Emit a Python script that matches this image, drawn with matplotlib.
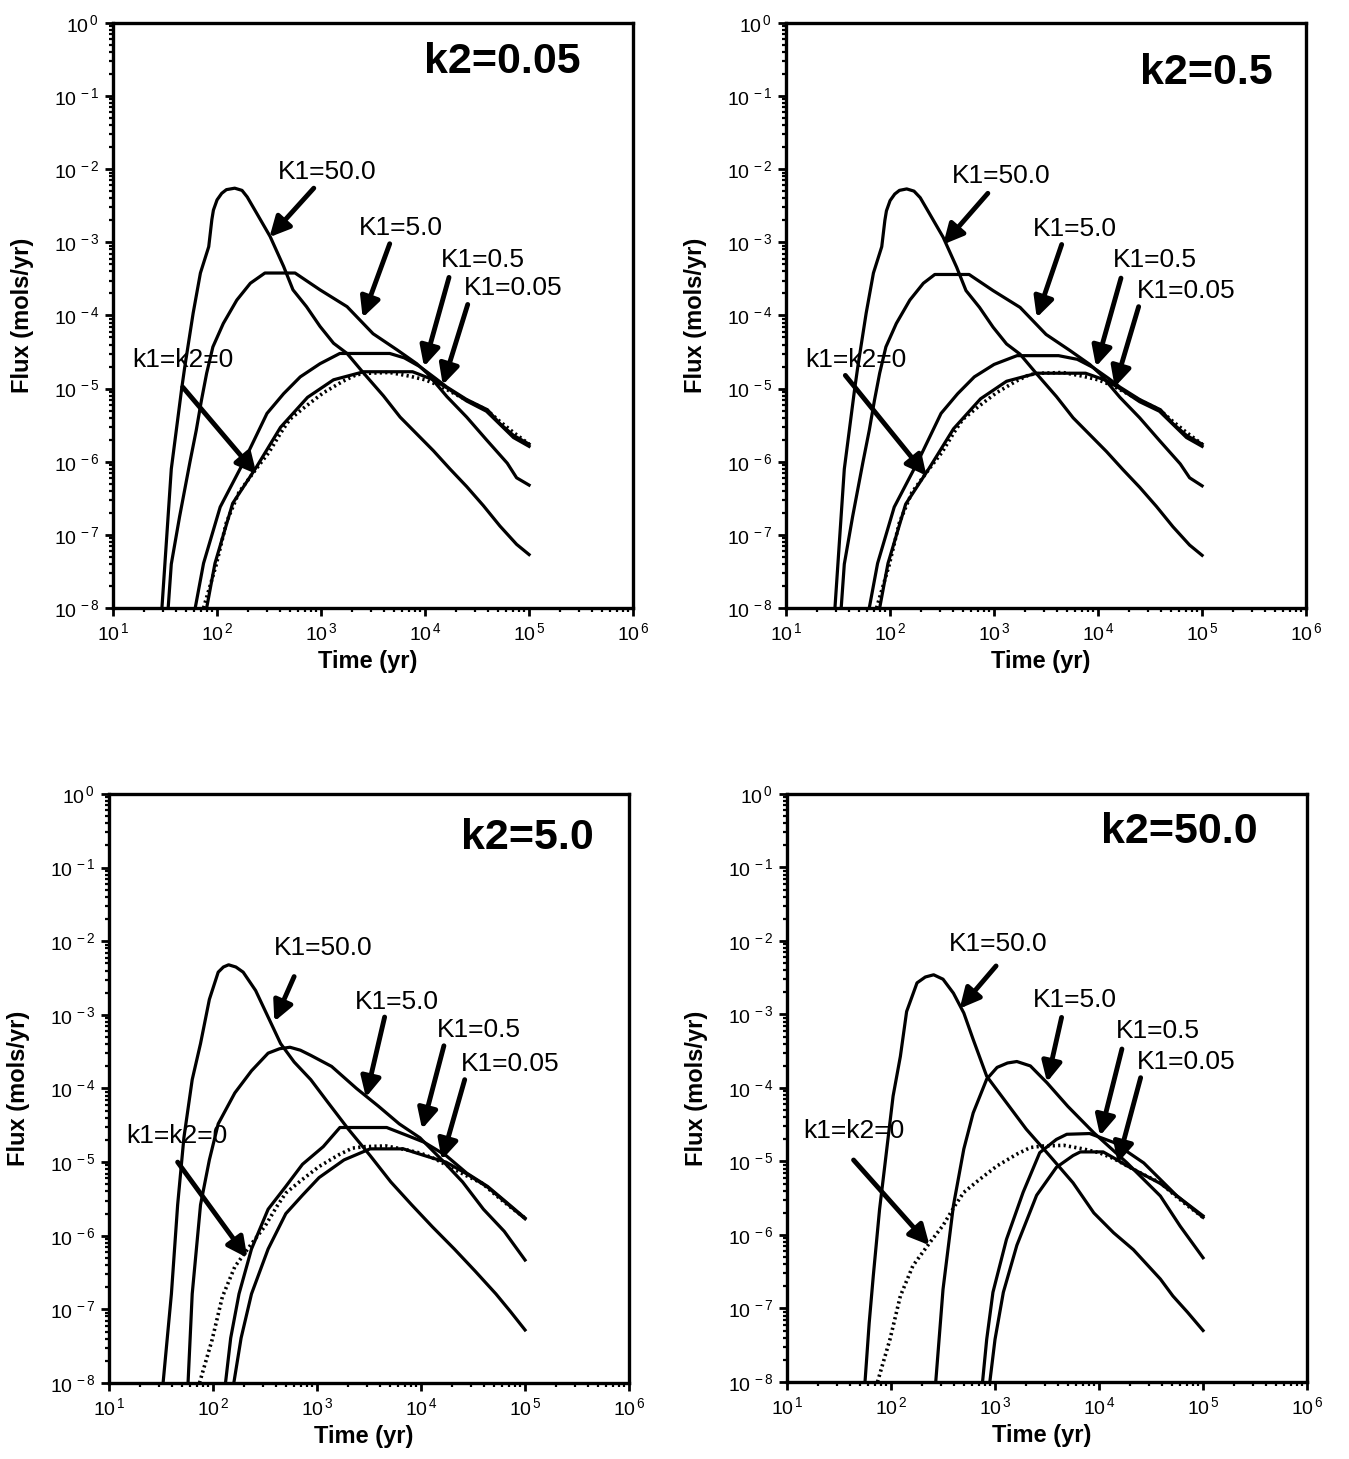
import matplotlib
matplotlib.use("Agg")
import matplotlib.pyplot as plt
from matplotlib.ticker import LogLocator, NullFormatter, FuncFormatter
import numpy as np

plt.rcParams['font.family'] = ['Liberation Sans', 'DejaVu Sans']
plt.rcParams['mathtext.fontset'] = 'custom'
plt.rcParams['mathtext.rm'] = 'Liberation Sans'
plt.rcParams['mathtext.it'] = 'Liberation Sans:italic'
plt.rcParams['mathtext.bf'] = 'Liberation Sans:bold'

# All curves stored as log10(time in yr) / log10(flux in mols/yr)

# k1=k2=0 reference curve (dotted, same in every panel)
ZERO_LT = [1.87, 1.99, 2.09, 2.21, 2.375, 2.50, 2.615, 2.70, 2.855, 3.02, 3.21, 3.34,
           3.46, 3.66, 3.85, 4.0, 4.14, 4.27, 4.43, 4.59, 4.72, 4.85, 5.0]
ZERO_LF = [-8.0, -7.42, -6.83, -6.42, -6.10, -5.87, -5.60, -5.42, -5.24, -5.06, -4.90, -4.81,
           -4.79, -4.78, -4.83, -4.88, -4.96, -5.06, -5.18, -5.29, -5.45, -5.60, -5.76]

# k2=0.05
A50_LT = [1.47, 1.56, 1.66, 1.69, 1.77, 1.84, 1.92, 1.95, 1.965, 2.0, 2.045, 2.09, 2.17, 2.24, 2.29,
          2.38, 2.51, 2.64, 2.73, 2.86, 2.99, 3.12, 3.25, 3.41, 3.60, 3.76, 3.92, 4.08, 4.24, 4.40,
          4.56, 4.72, 4.88, 5.0]
A50_LF = [-8.0, -6.1, -5.0, -4.7, -3.97, -3.42, -3.06, -2.69, -2.56, -2.42, -2.33, -2.28, -2.26, -2.29, -2.38,
          -2.60, -2.92, -3.33, -3.65, -3.88, -4.15, -4.38, -4.52, -4.79, -5.10, -5.39, -5.62, -5.85, -6.10, -6.34,
          -6.60, -6.88, -7.13, -7.27]
A5_LT = [1.53, 1.56, 1.64, 1.74, 1.80, 1.85, 1.90, 1.96, 2.06, 2.19, 2.32, 2.46, 2.75, 2.99, 3.25,
         3.50, 3.73, 3.92, 4.02, 4.21, 4.40, 4.59, 4.79, 4.88, 5.0]
A5_LF = [-8.0, -7.4, -6.75, -6.0, -5.57, -5.16, -4.79, -4.43, -4.11, -3.79, -3.56, -3.42, -3.42, -3.65, -3.88,
         -4.25, -4.47, -4.66, -4.79, -5.11, -5.39, -5.70, -6.02, -6.22, -6.32]
A05_LT = [1.79, 1.87, 2.03, 2.25, 2.48, 2.64, 2.80, 2.99, 3.18, 3.66, 3.80, 3.95, 4.10, 4.21, 4.40,
          4.60, 4.72, 4.85, 5.0]
A05_LF = [-8.0, -7.39, -6.62, -6.02, -5.34, -5.07, -4.84, -4.66, -4.52, -4.52, -4.58, -4.70, -4.86, -4.98, -5.15,
          -5.29, -5.48, -5.64, -5.76]
A005_LT = [1.90, 1.98, 2.15, 2.38, 2.61, 2.87, 3.12, 3.41, 3.88, 4.08, 4.21, 4.40, 4.59, 4.72, 4.85, 5.0]
A005_LF = [-8.0, -7.39, -6.57, -6.07, -5.53, -5.12, -4.88, -4.77, -4.77, -4.88, -4.99, -5.17, -5.31, -5.49, -5.67, -5.79]

# k2=0.5
B50_LT = [1.47, 1.56, 1.66, 1.69, 1.77, 1.84, 1.92, 1.95, 1.965, 2.0, 2.045, 2.09, 2.16, 2.23, 2.29,
          2.38, 2.51, 2.64, 2.73, 2.86, 2.99, 3.12, 3.25, 3.41, 3.60, 3.76, 3.92, 4.08, 4.24, 4.40,
          4.56, 4.72, 4.88, 5.0]
B50_LF = [-8.0, -6.1, -5.0, -4.7, -3.97, -3.42, -3.06, -2.70, -2.57, -2.43, -2.34, -2.29, -2.27, -2.30, -2.39,
          -2.61, -2.93, -3.34, -3.66, -3.89, -4.16, -4.39, -4.53, -4.80, -5.11, -5.40, -5.63, -5.86, -6.11, -6.35,
          -6.61, -6.89, -7.14, -7.28]
B5_LT = [1.53, 1.56, 1.64, 1.74, 1.80, 1.85, 1.90, 1.96, 2.06, 2.19, 2.32, 2.43, 2.76, 2.99, 3.25,
         3.50, 3.73, 3.92, 4.02, 4.21, 4.40, 4.59, 4.79, 4.88, 5.0]
B5_LF = [-8.0, -7.4, -6.75, -6.0, -5.57, -5.16, -4.79, -4.43, -4.11, -3.79, -3.56, -3.44, -3.44, -3.66, -3.89,
         -4.26, -4.48, -4.67, -4.80, -5.12, -5.40, -5.71, -6.03, -6.22, -6.33]
B05_LT = [1.80, 1.88, 2.04, 2.26, 2.49, 2.65, 2.81, 3.00, 3.22, 3.62, 3.80, 3.95, 4.10, 4.21, 4.40,
          4.60, 4.72, 4.85, 5.0]
B05_LF = [-8.0, -7.39, -6.62, -6.02, -5.34, -5.07, -4.84, -4.67, -4.55, -4.55, -4.60, -4.71, -4.86, -4.98, -5.15,
          -5.29, -5.48, -5.64, -5.76]
B005_LT = [1.90, 1.98, 2.15, 2.38, 2.61, 2.87, 3.12, 3.41, 3.88, 4.08, 4.21, 4.40, 4.59, 4.72, 4.85, 5.0]
B005_LF = [-8.0, -7.39, -6.58, -6.08, -5.55, -5.14, -4.90, -4.79, -4.79, -4.89, -5.0, -5.18, -5.31, -5.49, -5.67, -5.79]

# k2=5.0
C50_LT = [1.52, 1.60, 1.66, 1.72, 1.80, 1.88, 1.965, 2.05, 2.10, 2.15, 2.22, 2.29, 2.41, 2.53, 2.65, 2.78, 2.94,
          3.10, 3.30, 3.51, 3.71, 3.91, 4.11, 4.32, 4.52, 4.72, 4.86, 5.0]
C50_LF = [-8.0, -6.79, -5.58, -4.67, -3.88, -3.39, -2.79, -2.42, -2.35, -2.32, -2.35, -2.42, -2.67, -3.03, -3.39,
          -3.64, -3.88, -4.18, -4.55, -4.91, -5.27, -5.58, -5.88, -6.18, -6.48, -6.79, -7.03, -7.28]
C5_LT = [1.76, 1.80, 1.88, 1.965, 2.05, 2.21, 2.37, 2.53, 2.64, 2.74, 2.84, 2.94, 3.14, 3.38, 3.59, 3.79, 3.99,
         4.20, 4.40, 4.60, 4.80, 5.0]
C5_LF = [-8.0, -6.79, -5.58, -4.97, -4.48, -4.06, -3.76, -3.52, -3.46, -3.44, -3.48, -3.55, -3.70, -4.0, -4.24,
         -4.48, -4.67, -4.97, -5.27, -5.64, -5.94, -6.33]
C05_LT = [2.12, 2.17, 2.25, 2.37, 2.53, 2.70, 2.86, 3.06, 3.22, 3.67, 3.87, 4.03, 4.24, 4.44, 4.64, 4.80, 5.0]
C05_LF = [-8.0, -7.39, -6.79, -6.18, -5.64, -5.33, -5.03, -4.79, -4.53, -4.53, -4.64, -4.73, -4.91, -5.15, -5.33, -5.52, -5.76]
C005_LT = [2.20, 2.27, 2.37, 2.53, 2.70, 2.86, 3.02, 3.26, 3.51, 3.83, 4.03, 4.24, 4.44, 4.64, 4.80, 5.0]
C005_LF = [-8.0, -7.39, -6.79, -6.18, -5.70, -5.45, -5.21, -4.97, -4.82, -4.82, -4.91, -5.0, -5.16, -5.34, -5.53, -5.77]

# k2=50.0
D50_LT = [1.75, 1.79, 1.83, 1.89, 1.94, 2.02, 2.09, 2.15, 2.25, 2.33, 2.41, 2.50, 2.60, 2.70, 2.79, 2.92,
          3.11, 3.30, 3.53, 3.75, 3.95, 4.14, 4.33, 4.59, 4.71, 4.85, 5.0]
D50_LF = [-8.0, -7.2, -6.55, -5.65, -5.06, -4.11, -3.57, -2.96, -2.57, -2.49, -2.46, -2.52, -2.71, -2.98, -3.34,
          -3.84, -4.20, -4.56, -4.93, -5.29, -5.70, -5.97, -6.20, -6.60, -6.83, -7.05, -7.30]
D5_LT = [2.43, 2.50, 2.60, 2.70, 2.79, 2.92, 3.02, 3.12, 3.21, 3.34, 3.50, 3.70, 3.95, 4.27, 4.59, 4.78, 5.0]
D5_LF = [-8.0, -6.74, -5.60, -4.83, -4.34, -3.88, -3.72, -3.66, -3.64, -3.70, -3.93, -4.25, -4.61, -5.02, -5.47, -5.88, -6.31]
D05_LT = [2.88, 2.92, 2.98, 3.11, 3.27, 3.43, 3.59, 3.69, 3.91, 4.14, 4.43, 4.75, 5.0]
D05_LF = [-8.0, -7.42, -6.78, -6.06, -5.42, -4.88, -4.70, -4.63, -4.62, -4.74, -5.02, -5.47, -5.74]
D005_LT = [2.95, 3.0, 3.08, 3.21, 3.40, 3.59, 3.75, 3.82, 4.04, 4.14, 4.27, 4.43, 4.59, 4.75, 5.0]
D005_LF = [-8.0, -7.42, -6.78, -6.14, -5.46, -5.08, -4.92, -4.87, -4.87, -4.95, -5.06, -5.18, -5.30, -5.47, -5.76]

TITLES = ["k2=0.05", "k2=0.5", "k2=5.0", "k2=50.0"]
CURVE_LABELS = ["K1=50.0", "K1=5.0", "K1=0.5", "K1=0.05", "k1=k2=0"]

# annotation: text (left, center) / arrow tail / arrow head, log10 units
ANN_A = [(2.585, -2.04, 2.93, -2.26, 2.504, -2.93),
         (3.36, -2.81, 3.66, -3.02, 3.40, -4.03),
         (4.15, -3.24, 4.23, -3.48, 3.99, -4.70),
         (4.37, -3.63, 4.41, -3.85, 4.17, -4.95),
         (1.18, -4.61, 1.67, -4.98, 2.38, -6.17)]
ANN_B = [(2.59, -2.09, 2.94, -2.33, 2.51, -3.03),
         (3.37, -2.82, 3.65, -3.03, 3.41, -4.03),
         (4.14, -3.24, 4.22, -3.49, 3.98, -4.70),
         (4.37, -3.67, 4.39, -3.88, 4.16, -4.98),
         (1.18, -4.61, 1.57, -4.82, 2.35, -6.19)]
ANN_C = [(2.59, -2.09, 2.78, -2.48, 2.59, -3.09),
         (3.36, -2.82, 3.65, -3.03, 3.47, -4.12),
         (4.15, -3.21, 4.22, -3.42, 4.01, -4.55),
         (4.38, -3.67, 4.42, -3.88, 4.20, -4.97),
         (1.17, -4.64, 1.66, -5.0, 2.33, -6.30)]
ANN_D = [(2.56, -2.04, 3.01, -2.34, 2.66, -2.92),
         (3.36, -2.80, 3.64, -3.04, 3.50, -3.92),
         (4.16, -3.22, 4.22, -3.47, 4.01, -4.65),
         (4.36, -3.65, 4.40, -3.86, 4.18, -5.02),
         (1.16, -4.59, 1.64, -4.98, 2.37, -6.14)]

# title placement (axes fraction: right edge, vertical centre)
TITLE_POS = [(0.90, 0.933), (0.935, 0.915), (0.933, 0.925), (0.905, 0.935)]

PANELS = [
    [(A50_LT, A50_LF), (A5_LT, A5_LF), (A05_LT, A05_LF), (A005_LT, A005_LF)],
    [(B50_LT, B50_LF), (B5_LT, B5_LF), (B05_LT, B05_LF), (B005_LT, B005_LF)],
    [(C50_LT, C50_LF), (C5_LT, C5_LF), (C05_LT, C05_LF), (C005_LT, C005_LF)],
    [(D50_LT, D50_LF), (D5_LT, D5_LF), (D05_LT, D05_LF), (D005_LT, D005_LF)],
]
ANNS = [ANN_A, ANN_B, ANN_C, ANN_D]
AX_RECTS = [[0.0838, 0.5833, 0.3855, 0.4010],
            [0.5827, 0.5833, 0.3855, 0.4010],
            [0.0808, 0.0521, 0.3855, 0.4037],
            [0.5834, 0.0528, 0.3855, 0.4030]]


def log_fmt(v, pos):
    e = int(round(np.log10(v)))
    return r"$\mathregular{10^{\,%d}}$" % e


def draw_panel(ax, curves, anns, title, tpos):
    for lt, lf in curves:
        ax.plot(10 ** np.array(lt), 10 ** np.array(lf), color="black", lw=2.3,
                solid_joinstyle="round", zorder=3)
    ax.plot(10 ** np.array(ZERO_LT), 10 ** np.array(ZERO_LF), color="black", lw=2.6,
            linestyle=(0, (0.6, 0.9)), zorder=3)

    ax.set_xscale("log")
    ax.set_yscale("log")
    ax.set_xlim(1e1, 1e6)
    ax.set_ylim(1e-8, 1e0)
    ax.set_xticks([10.0 ** k for k in range(1, 7)])
    ax.set_yticks([10.0 ** k for k in range(-8, 1)])
    ax.xaxis.set_minor_locator(LogLocator(base=10, subs=np.arange(2, 10), numticks=20))
    ax.yaxis.set_minor_locator(LogLocator(base=10, subs=np.arange(2, 10), numticks=20))
    ax.xaxis.set_minor_formatter(NullFormatter())
    ax.yaxis.set_minor_formatter(NullFormatter())
    ax.xaxis.set_major_formatter(FuncFormatter(log_fmt))
    ax.yaxis.set_major_formatter(FuncFormatter(log_fmt))
    ax.tick_params(which="major", direction="out", length=6, width=2, labelsize=14, pad=4)
    ax.tick_params(which="minor", direction="out", length=3, width=1.6)
    for sp in ax.spines.values():
        sp.set_linewidth(2.4)

    ax.set_xlabel("Time (yr)", fontsize=17, fontweight="bold")
    ax.set_ylabel("Flux (mols/yr)", fontsize=17, fontweight="bold")
    ax.xaxis.set_label_coords(0.49, -0.072)
    ax.yaxis.set_label_coords(-0.152, 0.5)

    ax.text(tpos[0], tpos[1], title, transform=ax.transAxes, ha="right", va="center",
            fontsize=31, fontweight="bold")

    for (tx, ty, ax0, ay0, hx, hy), lab in zip(anns, CURVE_LABELS):
        ax.text(10 ** tx, 10 ** ty, lab, ha="left", va="center", fontsize=19, zorder=5)
        ax.annotate("", xy=(10 ** hx, 10 ** hy), xytext=(10 ** ax0, 10 ** ay0),
                    arrowprops=dict(arrowstyle="-|>", color="black", lw=3.5,
                                    mutation_scale=30, shrinkA=0, shrinkB=0),
                    zorder=5)


fig = plt.figure(figsize=(13.49, 14.59), dpi=100)
for rect, curves, anns, title, tpos in zip(AX_RECTS, PANELS, ANNS, TITLES, TITLE_POS):
    ax = fig.add_axes(rect)
    draw_panel(ax, curves, anns, title, tpos)

fig.savefig("out.png", dpi=100, facecolor="white")
